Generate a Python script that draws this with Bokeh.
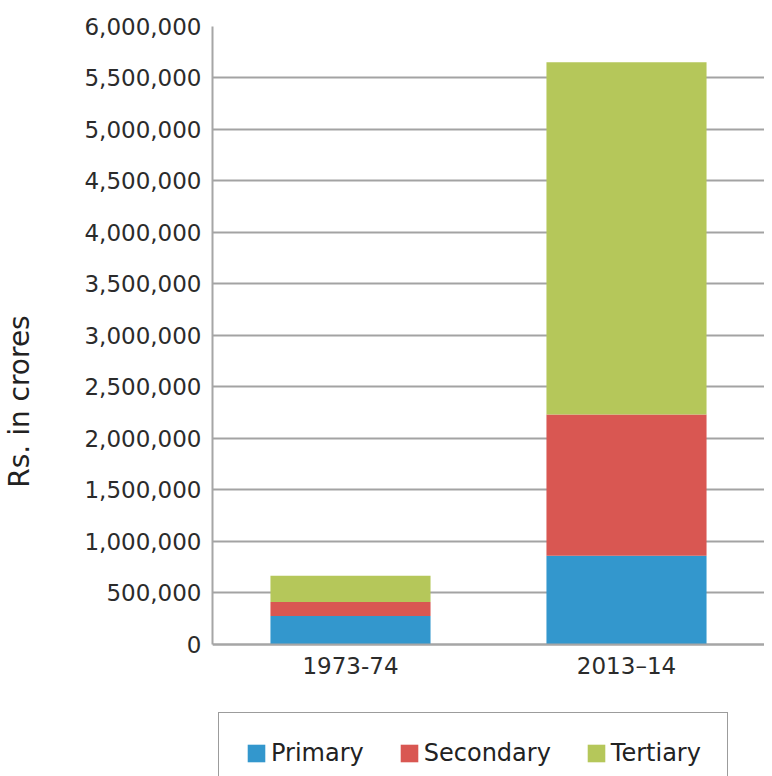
from bokeh.plotting import figure
from bokeh.models import (Range1d, FactorRange, FixedTicker, NumeralTickFormatter,
                          Legend, LegendItem, ColumnDataSource)
from bokeh.embed import file_html
from bokeh.resources import INLINE

years = ["1973-74", "2013\u201314"]
sectors = ["Primary", "Secondary", "Tertiary"]
primary = [272000, 857000]
secondary = [136000, 1374000]
tertiary = [254000, 3422000]
y_ticks = [0, 500000, 1000000, 1500000, 2000000, 2500000, 3000000,
           3500000, 4000000, 4500000, 5000000, 5500000, 6000000]
colors = ["#3397CD", "#D95752", "#B5C75A"]

source = ColumnDataSource(data=dict(year=years, Primary=primary,
                                    Secondary=secondary, Tertiary=tertiary))

FONT = "DejaVu Sans"
Y_MAX = 6000000
# the frame continues below zero to leave room for the legend (layout only)
plot_px, below_px = 617.5, 132.5
y_start = -Y_MAX * below_px / plot_px

p = figure(width=764, height=776,
           x_range=FactorRange(factors=years, range_padding=0),
           y_range=Range1d(y_start, Y_MAX), output_backend="svg", toolbar_location=None,
           min_border_left=207, min_border_top=26, min_border_right=0,
           min_border_bottom=0)
p.outline_line_color = None

rs = p.vbar_stack(sectors, x="year", width=0.58, color=colors, source=source,
                  line_color=None)

p.xgrid.grid_line_color = None
p.ygrid.grid_line_color = "#a3a3a3"
p.ygrid.grid_line_width = 2

p.yaxis.ticker = FixedTicker(ticks=y_ticks)
p.ygrid.ticker = FixedTicker(ticks=y_ticks)
p.yaxis.bounds = (0, Y_MAX)
p.yaxis.formatter = NumeralTickFormatter(format="0,0")
p.yaxis.axis_label = "Rs. in crores"
p.yaxis.axis_label_text_font = FONT
p.yaxis.axis_label_text_font_size = "28px"
p.yaxis.axis_label_text_font_style = "normal"
p.yaxis.axis_label_text_color = "#222222"
p.yaxis.axis_label_standoff = 45

p.xaxis.fixed_location = 0

for ax in (p.xaxis[0], p.yaxis[0]):
    ax.axis_line_color = "#a6a6a6"
    ax.axis_line_width = 2
    ax.major_tick_out = 0
    ax.major_tick_in = 0
    ax.minor_tick_out = 0
    ax.minor_tick_in = 0
    ax.major_label_text_font = FONT
    ax.major_label_text_font_size = "23px"
    ax.major_label_text_color = "#2b2b2b"
p.yaxis.major_label_standoff = 11
p.xaxis.major_label_standoff = 9

legend = Legend(items=[LegendItem(label=s, renderers=[r]) for s, r in zip(sectors, rs)],
                orientation="horizontal", location=(6, -18),
                border_line_color="#3a3a3a", border_line_width=1.5,
                background_fill_color="white", background_fill_alpha=1,
                padding=26, spacing=34, glyph_width=22, glyph_height=22,
                label_standoff=4, label_height=22,
                label_text_font=FONT, label_text_font_size="24px",
                label_text_color="#222222", margin=0)
p.add_layout(legend, "center")

open("out.html", "w").write(file_html(p, INLINE))
